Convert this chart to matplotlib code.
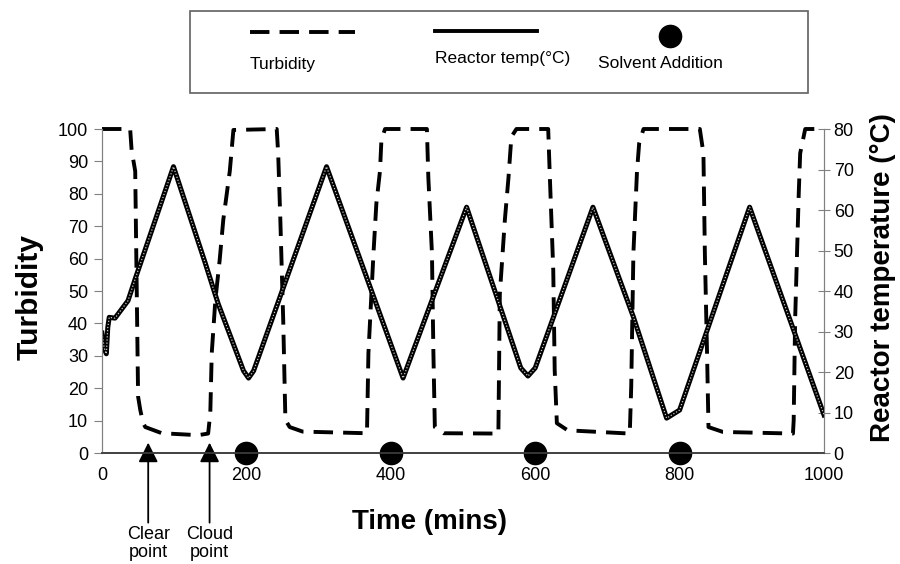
import matplotlib
matplotlib.use("Agg")
from matplotlib import pyplot as plt
from matplotlib.patches import Rectangle
import numpy as np

plt.rcParams['font.family'] = ['Liberation Sans', 'DejaVu Sans']

# turbidity (left axis, %)
time_turb = [0, 39, 41, 46, 50, 53, 57, 60, 83, 133,
             147, 150, 152, 157, 163, 168, 171, 177, 182, 242,
             244, 247, 251, 254, 260, 278, 367, 369, 376, 380,
             385, 387, 392, 450, 452, 457, 459, 461, 473, 549,
             551, 558, 563, 567, 574, 618, 620, 625, 627, 630,
             645, 731, 733, 736, 741, 744, 750, 828, 833, 835,
             838, 840, 860, 957, 958, 960, 965, 967, 974, 1000]
turbidity = [100, 100, 93.5, 87, 17.4, 13.3, 9.2, 8, 6.1, 5.5,
             6, 12.3, 30.8, 47.2, 59.6, 72, 77, 87, 99.7, 100,
             92.5, 72, 41, 10.2, 8, 6.6, 6.1, 30.8, 61.6, 77,
             87, 96.6, 100, 100, 85, 61.6, 31, 8, 6.1, 6,
             49, 72, 85, 97.6, 100, 100, 87, 56.5, 25.6, 9.2,
             7, 6, 20.5, 61.6, 87, 95.6, 100, 100, 92.5, 61.6,
             31, 8, 6.5, 6, 10, 41, 80, 92.5, 100, 100]

# reactor temperature (right axis, degC)
time_temp = [0, 3, 6, 8, 10, 18, 36, 46, 99, 143, 161, 196, 203, 210,
             311, 417, 505, 580, 590, 600, 680, 736, 782, 800, 897, 1000]
temp = [29.6, 26, 24.5, 31, 33.5, 33.3, 37.6, 43, 70.7, 46.9, 36.8, 20.3, 18.5, 20.3,
        70.7, 18.5, 60.7, 21, 19, 21, 60.7, 33.6, 8.6, 10.6, 60.7, 9.4]

# solvent additions and annotated points
solvent_times = [200, 400, 600, 800]
notes = [(64, 'Clear\npoint'), (149, 'Cloud\npoint')]

W, H = 900, 564
fig = plt.figure(figsize=(9, 5.64), dpi=100)
ax = fig.add_axes([102 / W, 1 - 453 / H, 722 / W, 324 / H])
ax2 = ax.twinx()

ax.plot(time_turb, turbidity, color='black', lw=2.8, dashes=(5, 2.6), clip_on=False)
ax2.plot(time_temp, temp, color='black', lw=3.6, solid_joinstyle='round')
ax2.plot(time_temp, temp, color='#c8c8c8', lw=0.9, ls=(0, (1, 1.5)))

ax.plot(solvent_times, [0] * len(solvent_times), 'o', color='black', ms=16,
        clip_on=False, zorder=10)

for x, label in notes:
    ax.annotate('', xy=(x, 3.2), xytext=(x, -21.5),
                arrowprops=dict(arrowstyle='-|>,head_length=1.2,head_width=0.6',
                                color='black', lw=1.3, shrinkA=0, shrinkB=0),
                annotation_clip=False)
    ax.text(x, -22.5, label, ha='center', va='top', fontsize=13, linespacing=1.1,
            clip_on=False)

ax.set_xlim(0, 1000)
ax.set_ylim(0, 100)
ax2.set_ylim(0, 80)
ax.set_xticks(range(0, 1001, 200))
ax.set_yticks(range(0, 101, 10))
ax2.set_yticks(range(0, 81, 10))

for a in (ax, ax2):
    a.spines['top'].set_visible(False)
    a.spines['left'].set_color('#808080')
    a.spines['right'].set_color('#808080')
    a.spines['bottom'].set_color('#404040')
    a.spines['bottom'].set_linewidth(1.2)
ax.tick_params(axis='x', length=0, pad=10, labelsize=13)
ax.tick_params(axis='y', length=6, color='#808080', pad=4, labelsize=13)
ax2.tick_params(axis='y', direction='inout', length=8, color='#808080', pad=3, labelsize=13)

ax.set_xlabel('Time (mins)', fontsize=20, fontweight='bold', va='center')
ax.xaxis.set_label_coords(0.454, -0.213)
ax.set_ylabel('Turbidity', fontsize=21.5, fontweight='bold', va='center')
ax.yaxis.set_label_coords(-0.1, 0.48)
ax2.set_ylabel('Reactor temperature (\u00b0C)', fontsize=20, fontweight='bold', va='center')
ax2.yaxis.set_label_coords(1.082, 0.54)

# legend box drawn in pixel coordinates
lax = fig.add_axes([190 / W, 1 - 93 / H, (808 - 190) / W, (93 - 11) / H])
lax.set_xlim(190, 808)
lax.set_ylim(93, 11)
lax.axis('off')
lax.add_patch(Rectangle((190, 11), 618, 82, fill=False, ec='#606060', lw=1.2, clip_on=False))
lax.plot([250, 355], [32, 32], color='black', lw=2.8, dashes=(5, 2.6))
lax.text(250, 64, 'Turbidity', fontsize=12.5, va='center', ha='left')
lax.plot([435, 537], [31, 31], color='black', lw=2.8)
lax.text(435, 59, 'Reactor temp(\u00b0C)', fontsize=12.5, va='center', ha='left')
lax.plot([670], [36], 'o', color='black', ms=16)
lax.text(598, 64, 'Solvent Addition', fontsize=12.5, va='center', ha='left')

fig.savefig('out.png', dpi=100)
plt.close(fig)
